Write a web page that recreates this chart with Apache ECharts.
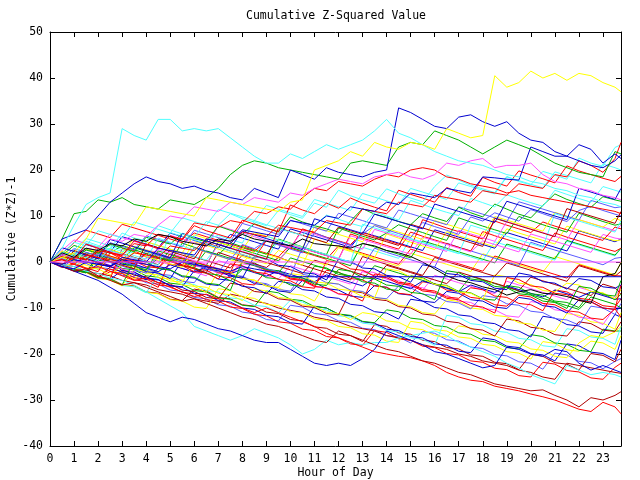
<!DOCTYPE html>
<html><head><meta charset="utf-8">
<script src="https://cdn.jsdelivr.net/npm/echarts@6/dist/echarts.min.js"></script>
<style>html,body{margin:0;padding:0;background:#fff}#c{width:640px;height:480px}</style>
</head><body><div id="c"></div>
<script>
// time grid (hour of day)
const hours = [0,0.5,1,1.5,2,2.5,3,3.5,4,4.5,5,5.5,6,6.5,7,7.5,8,8.5,9,9.5,10,10.5,11,11.5,12,12.5,13,13.5,14,14.5,15,15.5,16,16.5,17,17.5,18,18.5,19,19.5,20,20.5,21,21.5,22,22.5,23,23.5,23.75];
const yMin = -40, yMax = 50, yStep = 10;
const xMin = 0, xMax = 23.75, xStep = 1;

// cumulative (Z*Z)-1 per station
const yellowTop = [0,1,2,5,9.5,9,8.5,8,12,11.5,11,10.5,10,14,13.5,13,12.5,12,11.5,11,13,13.5,20,21,22,24,23,26,25,24.5,26,25.5,24.5,29,28,27,27.5,40.5,38,39,41.5,40,41,39.5,41,40.5,39,38,37];
const cyanTop = [0,3,8,12.5,14,15,29,27.5,26.5,31,31,28.5,29,28.5,29,27,25,23,21.5,21.5,23.5,22.5,24,25.5,24.5,25.5,26.5,28.5,31,28,27,25.5,24,23,22,21.5,21,20,19,18.5,17.5,17,16,15.5,14.5,14,13,12.5,12];
const blueTop = [0,5,6,7,10,13,15,17,18.5,17.5,17,16,16.5,15.5,15,14,13.5,16,15,14,20,19,18,20.5,19.5,19,18.5,19.5,20,33.5,32.5,31,29.5,29,31.5,32,30.5,29.5,30.5,28,26.5,26,24,23,25.5,24.5,21.5,23.5,22.5];
const greenUpper = [0,5,10.5,11,13.5,13,14,12.5,12,11.5,13.5,13,12.5,14,16,19,21,22,21.5,20.5,20,19.5,19,18.5,18,21.5,22,21.5,21,25,26,25.5,28.5,27.5,26.5,25,23.5,25,26.5,25.5,24.5,23,21.5,20.5,19.5,19,18.5,24,23.5];
const magentaUpper = [0,1.5,1,3,2.5,5,4.5,6,5.5,8,10,9.5,12,11.5,11,13,12.5,14,13.5,13,15,14.5,16,17,18,17.5,17,18.5,19,19.5,18.5,18,19,21.5,21,22,22.5,20.5,21,21,21.5,19,17.5,17,16,15.5,14.5,14,13.5];
const blueJump = [0,-1,-1.5,0,-0.5,-1,1,0.5,0,3,2.5,2,1.5,5,4.5,4,7,6.5,6,5.5,9,8.5,8,10,9.5,12,11.5,11,13,12.5,15,14.5,14,16,15.5,15,18.5,18.3,18,17.8,25,24,23,23,22,21,20.5,22,23.3];
const redUpperA = [0,-0.5,1,0.5,2.5,2,1.5,4,3.5,6,5.5,5,8.5,8,7.5,9,8.5,11,10.5,12,11.5,14,16,15.5,17.5,17,16.5,18,19,18.5,20,20.5,20,18.5,18,17,16.5,16,15,15.5,14.5,14,13.5,13,12.5,12,11.5,11,10.5];
const redUpperB = [0,0.5,-0.5,1.5,1,0.5,0,2,1.5,1,3.5,3,2.5,5,4.5,4,6.5,6,5.5,8,7.5,7,6.5,9,8.5,8,11.5,11,10.5,13,12.5,12,14.5,14,13.5,13,15.5,15,14.5,17,16.5,16,19,18.5,22,21,19.5,22.5,26];
const cyanLow = [0,-0.5,-1,-2,-2.5,-3.5,-4,-5,-6.5,-8,-9.5,-11,-14,-15,-16,-17,-16,-14.5,-15.5,-16.5,-18,-20,-19,-17,-18,-17.5,-18,-17.5,-17.5,-16.5,-16,-15.5,-15,-16,-17.5,-18.5,-19.5,-20.5,-22,-23,-24.5,-25.5,-26.5,-22.5,-23.5,-24.5,-24,-24.5,-25];
const blueLow = [0,-1,-2,-3,-4,-5.5,-7,-9,-11,-12,-13,-12,-12.5,-13.5,-14.5,-15,-16,-17,-17.5,-17.5,-19,-20.5,-22,-22.5,-22,-22.5,-21,-19,-15,-16,-17,-18,-19.5,-20,-21,-22,-23,-22.5,-18.5,-19,-20,-20.5,-19,-19.5,-22,-23.5,-22.5,-23.5,-24];
const redLowest = [0,0.5,-0.5,-1.5,-1,-2,-3,-4,-3.5,-4.5,-5.5,-6.5,-7.5,-7,-8,-9,-10,-11,-10,-11,-12,-13,-14,-15.5,-16.5,-17.5,-18.5,-19.5,-20,-20.5,-20.8,-21.5,-22.5,-24,-25,-25.7,-26,-27,-27.5,-28,-28.7,-29.3,-30,-31,-32,-32.5,-30.5,-31.5,-33];
const darkRedLow = [0,-1,-2,-1.5,-3,-4,-5,-4.5,-5.5,-6.5,-7.5,-8.5,-8,-9,-10,-11,-12,-12.5,-13.5,-14,-15,-16,-17,-17.5,-15,-16,-17,-18,-19,-19.5,-20.5,-21.5,-22,-23,-24,-24.5,-25.5,-26.5,-27,-27.5,-28,-27.8,-29,-30,-31.5,-29.5,-30,-29,-28.2];
const blackLine = [0,2,1,3,2.5,4,3.5,5,4.5,6,5.5,4.5,4,3.5,5,4.5,6,5,4.5,4,3.5,5,4,3.7,3.5,3,4,3.5,2.5,2,1.2,0,-1.5,-3,-4,-4.5,-5.4,-6,-7.2,-6.5,-6,-6.8,-7,-7.5,-8.3,-9,-3.2,-2.5,-0.2];
const magentaFlat = [0,0,0,0,0,0,0,0,0,0,0,0,0,0,0,0,0,0,0,0,0,0,0,0,0,0,0,0,0,0,0,0,0,0,0,0,0,0,0,0,0,0,0,0,0,0,0,0,0];
const blueFlat = [0,-0.5,0.5,0,-0.5,-1,0.5,0,-0.5,-1,-1.5,0,-0.5,-1,-1.5,-2,-1,-1.5,-2,-2.5,-3.2,-3.2,-3.2,-3.2,-3.2,-3.2,-3.2,-3.2,-3.2,-3.2,-3.2,-3.2,-3.2,-3.2,-3.2,-3.2,-3.2,-3.2,-3.2,-3.2,-3.2,-3.2,-3.2,-3.2,-3.2,-3.2,-3.2,-3.2,-3.2];
const g01 = [0,1.5,0.8,2.6,1.9,3.8,3.1,2.2,5.4,4.6, 3.9,6.2,5.1,4.4,7.8,6.9,6.0,8.3,7.4,6.5, 9.8,8.7,7.9,7.2,6.3,8.9,11.6,10.4,9.7,8.8, 8.1,10.5,9.6,8.8,11.9,10.7,9.8,12.6,11.5,10.4, 9.6,12.3,14.8,13.6,12.7,11.9,14.2,13.5,13.2];
const g02 = [0,2.1,1.2,4.5,3.6,2.8,6.3,5.2,4.6,7.9, 7.0,6.1,5.4,8.8,8.0,10.5,9.4,8.7,7.9,11.2, 10.3,9.5,12.8,11.9,15.6,14.4,13.5,12.8,15.9,14.8, 13.9,13.1,16.4,18.9,17.8,16.7,15.9,15.1,18.6,17.5, 16.8,19.7,18.9,18.0,22.6,21.5,20.8,24.9,25.5];
const g03 = [0,-1.1,0.6,-0.4,1.8,0.9,0.1,-0.7,2.4,1.5, 0.6,-0.2,3.1,2.2,1.4,0.5,3.8,2.9,4.6,3.7, 2.8,2.0,6.4,5.3,4.5,3.6,6.1,7.9,7.0,6.2, 5.3,8.6,7.7,6.9,6.0,9.8,8.9,10.7,9.8,8.9, 11.4,10.5,9.6,8.8,11.2,12.1,11.2,10.4,10.0];
const g04 = [0,1.3,0.5,3.9,3.0,2.1,1.4,4.6,3.8,2.9, 5.7,4.8,7.9,6.8,6.0,5.2,9.1,8.2,7.3,6.6, 12.4,11.3,10.5,12.8,11.7,13.9,12.8,11.9,11.1,15.6, 14.7,13.9,13.0,16.2,15.1,14.3,18.4,17.3,16.5,19.8, 18.9,18.1,17.2,20.9,19.8,19.0,18.2,17.5,18.6];
const g05 = [0,-0.8,1.9,1.0,0.2,3.1,2.3,1.4,0.6,5.2, 4.3,3.5,2.6,4.9,5.8,4.9,4.1,9.0,8.1,7.3, 6.5,5.8,7.9,10.2,9.3,8.4,7.7,10.9,10.0,9.1, 13.4,12.5,11.6,10.8,10.1,13.8,12.9,12.0,14.6,13.7, 12.9,12.1,15.6,14.7,13.8,13.0,16.4,15.6,15.2];
const g06 = [0,2.2,1.3,0.4,2.8,1.9,3.6,2.7,1.8,1.0, 0.2,4.1,3.2,2.3,1.5,4.2,3.3,2.5,1.7,5.0, 4.1,3.3,2.4,1.6,7.4,6.5,5.6,4.8,6.3,8.1, 7.2,6.4,5.5,4.7,9.6,8.7,7.8,7.0,6.2,9.9, 9.0,8.1,7.3,6.5,10.6,9.7,8.8,8.0,8.3];
const g07 = [0,-0.9,1.4,0.5,2.2,1.3,0.5,-0.3,1.9,1.0, 0.2,-0.6,-1.4,4.2,3.3,2.4,1.6,0.8,4.7,3.8, 2.9,7.2,6.3,5.4,4.6,3.8,6.4,5.5,4.7,3.9, 3.1,9.2,8.3,7.4,6.6,5.8,5.0,8.9,8.0,7.2, 6.4,8.7,7.8,7.0,6.2,5.4,4.7,7.6,7.2];
const g08 = [0,0.9,0.1,-0.7,-1.5,1.2,0.3,2.1,1.2,0.4, -0.4,-1.2,3.0,2.1,1.3,0.5,-0.3,2.6,1.7,0.9, 0.1,-0.7,5.0,4.1,3.3,2.5,1.7,0.9,6.1,5.2, 4.3,3.5,2.7,6.6,5.7,4.9,4.1,3.3,7.2,6.3, 5.5,4.7,3.9,7.8,6.9,6.1,5.3,4.6,4.8];
const g09 = [0,-1.2,-0.4,-1.3,-2.1,2.0,1.1,0.3,-0.5,-1.3, 1.8,0.9,0.1,-0.7,-1.5,-2.3,3.6,2.7,1.9,1.1, 3.9,3.0,2.2,1.4,0.6,6.1,5.2,4.4,3.6,2.8, 6.5,5.6,4.8,4.0,3.2,2.4,6.6,5.7,4.9,4.1, 3.3,2.5,6.3,5.4,4.6,3.8,3.0,2.3,3.0];
const g10 = [0,0.8,-0.1,1.6,0.7,-0.1,-0.9,-1.7,-2.4,1.9, 1.0,0.2,-0.6,-1.4,-2.2,1.1,0.2,-0.6,-1.4,-2.2, -3.0,3.1,2.2,1.4,0.6,-0.2,-1.0,3.0,2.1,1.3, 0.5,-0.3,-1.1,4.1,3.2,2.4,1.6,0.8,0.0,-0.8, 4.3,3.4,2.6,1.8,1.0,0.2,-0.6,0.8,1.0];
const g11 = [0,-0.9,1.5,0.6,-0.2,-1.0,0.4,-0.4,1.8,0.9, 0.1,-0.7,-1.5,-2.3,2.1,1.2,0.4,-0.4,-1.2,1.0, 0.1,-0.7,-1.5,-2.3,-3.1,-3.9,1.2,0.3,-0.5,-1.3, -2.1,-2.9,1.0,0.1,-0.7,-1.5,-2.3,-3.1,-0.2,-1.0, -1.8,-2.6,-3.4,-4.2,-0.8,-1.6,-2.4,-3.1,-2.0];
const g12 = [0,-0.6,-1.9,-2.2,1.4,0.9,-0.5,-0.8,-2.1,-2.4, -3.6,0.3,-0.2,-1.6,-1.9,-3.1,-3.5,1.2,0.7,-0.7, -1.0,-2.3,-2.6,-3.9,0.6,0.1,-1.3,-1.5,-2.9,-3.2, -4.4,-0.6,-1.1,-2.5,-2.8,-4.0,-4.3,-5.7,-6.0,-2.4, -2.9,-4.3,-4.6,-5.9,-3.6,-4.0,-5.4,-5.7,-5.0];
const g13 = [0,-1.0,-0.2,-1.3,-1.5,-2.8,-0.7,-1.1,-2.5,-2.8, -4.1,-4.4,-0.2,-0.7,-2.0,-2.3,-3.6,-3.9,-5.2,-5.5, -2.5,-2.9,-4.3,-4.6,-5.9,-6.2,-7.5,-7.8,-1.5,-1.9, -3.3,-3.6,-4.9,-5.2,-6.5,-6.8,-8.1,-2.8,-3.2,-4.6, -4.9,-6.2,-6.5,-4.6,-5.0,-6.4,-6.7,-8.0,-6.0];
const g14 = [0,1.2,0.3,2.0,1.4,0.1,-0.2,-1.5,-1.8,1.0, 0.5,-0.9,-1.2,-2.5,-2.8,-4.1,-1.6,-2.0,-3.4,-3.7, -5.0,-5.3,-0.9,-1.3,-2.7,-3.0,-4.3,-4.6,-5.9,-6.2, -3.0,-3.4,-4.8,-5.1,-6.4,-6.7,-8.0,-8.3,-5.1,-5.5, -6.9,-7.2,-8.5,-8.8,-9.9,-6.4,-6.8,-8.2,-7.0];
const g15 = [0,-0.6,-1.9,-2.2,-3.5,-2.1,-2.5,-3.9,-4.2,-5.5, 0.4,-0.1,-1.5,-1.8,-3.1,-3.4,-4.7,-5.0,-1.9,-2.3, -3.7,-4.0,-5.3,-5.6,-6.9,-7.2,-8.5,-2.6,-3.0,-4.4, -4.7,-6.0,-6.3,-7.6,-7.9,-5.6,-6.0,-7.4,-7.7,-9.0, -9.3,-10.6,-6.1,-6.5,-7.9,-8.2,-9.5,-9.8,-8.0];
const g16 = [0,1.0,0.2,-0.3,-1.6,0.9,0.4,-1.0,-1.3,-2.6, -2.9,-4.2,-4.5,-1.0,-1.4,-2.8,-3.1,-4.4,-4.7,-6.0, -6.3,-2.7,-3.1,-4.5,-4.8,-6.1,-6.4,-7.7,-8.0,-5.2, -5.6,-7.0,-7.3,-8.6,-8.9,-10.2,-7.3,-7.7,-9.1,-9.4, -10.7,-11.0,-12.3,-12.6,-13.7,-9.6,-10.0,-11.4,-9.0];
const g17 = [0,-0.5,-1.8,2.0,1.5,0.1,-0.2,-1.5,2.6,2.1, 0.7,0.4,-0.9,-1.2,-2.5,-2.8,-0.4,-0.8,-2.2,-2.5, -3.8,-4.1,-5.4,-5.7,-7.0,-7.3,-1.9,-2.3,-3.7,-4.0, -5.3,-5.6,-6.9,-7.2,-8.5,-8.8,-10.1,-10.4,-11.7,-12.0, -8.6,-9.0,-10.4,-10.7,-12.0,-12.3,-13.6,-9.8,-10.0];
const g18 = [0,-0.7,-2.0,-2.3,-3.6,-3.9,-5.2,-1.6,-2.0,-3.4, -3.7,-5.0,-5.3,-6.6,-1.9,-2.3,-3.7,-4.0,-5.3,-5.6, -6.9,-7.2,-8.5,-4.4,-4.8,-6.2,-6.5,-7.8,-8.1,-9.4, -9.7,-11.0,-11.3,-8.2,-8.6,-10.0,-10.3,-11.6,-11.9,-13.2, -13.5,-14.8,-15.1,-11.2,-11.6,-13.0,-13.3,-14.6,-11.0];
const g19 = [0,-0.6,1.6,1.1,-0.3,0.2,-1.9,-2.2,-3.5,-3.8, -5.1,-5.4,-1.9,-2.3,-3.7,-4.0,-5.3,-5.6,-6.9,-4.2, -4.6,-6.0,-6.3,-7.6,-7.9,-9.2,-9.5,-10.8,-11.1,-12.4, -8.1,-8.5,-9.9,-10.2,-11.5,-11.8,-13.1,-13.4,-14.7,-15.0, -16.3,-11.8,-12.2,-13.6,-13.9,-15.2,-15.5,-11.4,-12.0];
const g20 = [0,-0.5,-1.8,-2.1,-3.4,-1.1,-1.5,-2.9,-3.2,-4.5, -4.8,-6.1,-6.4,-7.7,-8.0,-4.6,-5.0,-6.4,-6.7,-8.0, -8.3,-9.6,-9.9,-11.2,-11.5,-6.3,-6.7,-8.1,-8.4,-9.7, -10.0,-11.3,-11.6,-12.9,-13.2,-14.5,-14.8,-16.1,-12.4,-12.8, -14.2,-14.5,-15.8,-16.1,-13.0,-13.4,-14.8,-15.1,-13.0];
const g21 = [0,-0.6,-1.9,-2.2,-3.5,-3.8,-5.1,-5.4,-6.7,-2.8, -3.2,-4.6,-4.9,-6.2,-6.5,-7.8,-8.1,-9.4,-9.7,-11.0, -8.3,-8.7,-10.1,-10.4,-11.7,-12.0,-13.3,-13.6,-14.9,-15.2, -16.5,-16.8,-18.1,-11.6,-12.0,-13.4,-13.7,-15.0,-15.3,-16.6, -16.9,-18.2,-18.5,-14.5,-14.9,-16.3,-16.6,-17.9,-14.0];
const g22 = [0,-0.5,-1.8,-2.1,0.4,0.0,-1.4,-1.7,-3.0,-3.3, -4.6,-4.9,-6.2,-6.5,-7.8,-8.1,-9.4,-9.7,-6.3,-6.7, -8.1,-8.4,-9.7,-10.0,-11.3,-11.6,-12.9,-13.2,-10.4,-10.8, -12.2,-12.5,-13.8,-14.1,-15.4,-15.7,-17.0,-17.3,-18.6,-18.9, -15.8,-16.2,-17.6,-17.9,-19.2,-19.5,-14.6,-15.0,-15.0];
const g23 = [0,-0.5,-1.8,-2.1,-3.4,-3.7,-5.0,-5.3,-6.6,-6.9, -8.2,-8.5,-9.8,-10.1,-5.8,-6.2,-7.6,-7.9,-9.2,-9.5, -10.8,-11.1,-12.4,-12.7,-14.0,-14.3,-15.6,-15.9,-17.2,-17.5, -12.9,-13.3,-14.7,-15.0,-16.3,-16.6,-17.9,-18.2,-19.5,-19.8, -21.1,-17.3,-17.7,-19.1,-19.4,-17.2,-17.6,-19.0,-16.0];
const g24 = [0,-0.6,-1.9,-2.2,-3.5,-3.8,-1.8,-2.2,-3.6,-3.9, -5.2,-5.5,-6.8,-7.1,-8.4,-8.7,-10.0,-10.3,-11.6,-11.9, -13.2,-13.5,-9.6,-10.0,-11.4,-11.7,-13.0,-13.3,-14.6,-14.9, -16.2,-16.5,-17.8,-18.1,-19.4,-19.7,-16.5,-16.9,-18.3,-18.6, -19.9,-20.2,-21.5,-17.8,-18.2,-19.6,-19.9,-21.2,-17.0];
const g25 = [0,-0.4,-1.7,-2.0,-3.3,-3.6,-4.9,-5.2,-6.5,-6.8, -8.1,-8.4,-5.9,-6.3,-7.7,-8.0,-9.3,-9.6,-10.9,-11.2, -12.5,-12.8,-14.1,-14.4,-15.7,-16.0,-17.3,-13.6,-14.0,-15.4, -15.7,-17.0,-17.3,-18.6,-18.9,-20.2,-20.5,-21.8,-22.1,-23.4, -20.1,-20.5,-21.9,-22.2,-23.5,-19.9,-20.3,-21.7,-19.0];
const g26 = [0,-0.4,-1.7,-2.0,-1.1,-1.5,-2.9,-3.2,-4.5,-4.8, -6.1,-6.4,-7.7,-8.0,-9.3,-9.6,-10.9,-11.2,-12.5,-12.8, -9.4,-9.8,-11.2,-11.5,-12.8,-13.1,-14.4,-14.7,-16.0,-16.3, -17.6,-15.1,-15.5,-16.9,-17.2,-18.5,-18.8,-20.1,-20.4,-21.7, -22.0,-23.3,-19.8,-20.2,-21.6,-21.9,-23.2,-21.6,-21.0];
const g27 = [0,-0.3,-1.6,-1.9,-3.2,-1.6,-2.0,-3.4,-3.7,-5.0, -5.3,-6.6,-6.9,-8.2,-8.5,-9.8,-10.1,-11.4,-11.7,-13.0, -13.3,-14.6,-14.9,-16.2,-16.5,-17.8,-18.1,-14.9,-15.3,-16.7, -17.0,-18.3,-18.6,-19.9,-20.2,-21.5,-21.8,-23.1,-23.4,-24.7, -25.0,-21.8,-22.2,-23.6,-23.9,-25.2,-25.5,-22.9,-22.0];
const g28 = [0,0.7,-0.1,0.8,0.0,-0.8,0.3,-0.5,-1.3,-2.1, -0.6,-1.4,-2.2,-1.0,-1.8,-2.6,-1.5,-2.3,-3.1,-1.9, -2.7,-3.5,-4.3,-2.8,-3.6,-4.4,-5.2,-3.4,-4.2,-5.0, -5.8,-4.1,-4.9,-5.7,-6.5,-5.0,-5.8,-6.6,-5.2,-6.0, -6.8,-7.6,-6.1,-6.9,-7.7,-6.5,-7.3,-8.1,-8.0];
const g29 = [0,1.8,1.0,0.2,3.2,2.4,1.6,0.8,0.0,2.7, 1.9,1.1,0.3,-0.5,3.9,3.1,2.3,1.5,0.7,-0.1, 3.8,3.0,2.2,1.4,0.6,5.7,4.9,4.1,3.3,2.5, 1.7,5.4,4.6,3.8,3.0,2.2,4.6,3.8,3.0,2.2, 6.1,5.3,4.5,3.7,2.9,2.1,6.0,5.2,5.0];
const g30 = [0,-0.5,-1.8,-2.1,-3.4,-3.7,-5.0,0.4,0.0,-1.4, -1.7,-3.0,-3.3,-4.6,-4.9,-6.2,0.2,-0.2,-1.6,-1.9, -3.2,-3.5,-4.8,-5.1,-1.6,-2.0,-3.4,-3.7,-5.0,-5.3, -6.6,-6.9,-8.2,-1.9,-2.3,-3.7,-4.0,-5.3,-5.6,-6.9, -7.2,-8.5,-8.8,-10.1,-5.3,-5.7,-7.1,-7.4,-4.0];
const g31 = [0,-0.8,-1.6,4.1,3.3,2.5,1.7,0.9,0.1,-0.7, 6.4,5.6,4.8,4.0,3.2,2.4,1.6,0.8,5.6,4.8, 4.0,3.2,2.4,1.6,0.8,0.0,8.2,7.4,6.6,5.8, 5.0,4.2,3.4,2.6,1.8,8.0,7.2,6.4,5.6,4.8, 4.0,3.2,10.5,9.7,8.9,8.1,7.3,6.5,9.0];
const g32 = [0,-0.8,2.5,1.7,0.9,0.1,-0.7,-1.5,3.9,3.1, 2.3,1.5,0.7,4.6,3.8,3.0,2.2,1.4,0.6,7.4, 6.6,5.8,5.0,4.2,7.6,6.8,6.0,5.2,4.4,3.6, 8.2,7.4,6.6,5.8,5.0,4.2,3.4,9.5,8.7,7.9, 7.1,6.3,5.5,11.6,10.8,10.0,9.2,8.4,11.0];
const g33 = [0,3.1,2.3,1.5,0.7,4.9,4.1,3.3,2.5,1.7, 0.9,6.2,5.4,4.6,3.8,3.0,6.7,5.9,5.1,4.3, 3.5,2.7,9.4,8.6,7.8,7.0,6.2,10.4,9.6,8.8, 8.0,7.2,12.6,11.8,11.0,10.2,9.4,8.6,13.2,12.4, 11.6,10.8,10.0,9.2,16.0,15.2,14.4,13.6,16.0];
const g34 = [0,-0.4,-1.7,-0.3,-0.7,-2.1,-2.4,-3.7,-1.8,-2.2, -3.6,-3.9,-5.2,-5.5,-6.8,-7.1,-8.4,-5.9,-6.3,-7.7, -8.0,-9.3,-9.6,-10.9,-11.2,-12.5,-11.0,-11.4,-12.8,-13.1, -14.4,-14.7,-16.0,-16.3,-13.9,-14.3,-15.7,-16.0,-17.3,-17.6, -18.9,-19.2,-20.5,-20.8,-17.6,-16.0,-16.4,-15.2,-14.0];
const g35 = [0,-0.5,-1.8,-2.1,-3.4,-3.7,2.9,2.5,1.1,0.8, -0.5,-0.8,-2.1,-2.4,-3.7,-0.4,-0.8,-2.2,-2.5,-3.8, -4.1,-5.4,-5.7,0.3,-0.1,-1.5,-1.8,-3.1,-3.4,-4.7, -5.0,-6.3,-6.6,-7.9,-8.2,-9.5,-9.8,-11.1,-3.4,-3.8, -5.2,-5.5,-6.8,-7.1,-8.4,-8.7,-10.0,-10.3,-5.0];
const g36 = [0,-0.5,-1,-2,-2.5,-3,-4,-4.5,-5,-6, -6.5,-7,-8,-8.5,-9,-7,-7.5,-8.5,-9,-10, -10.5,-11,-12,-12.5,-13,-14,-14.5,-15,-16,-16.5, -17,-18,-18.5,-19,-20,-20.5,-21.5,-22,-22.5,-23.5, -24,-25,-25.5,-22,-22.5,-23,-23.5,-24,-24.2];
const g37 = [0,2.5,4.8,4.0,3.2,6.1,5.3,4.5,3.7,2.9, 5.8,5.0,4.2,3.4,7.9,7.1,6.3,5.5,4.7,3.9, 3.1,6.8,6.0,5.2,4.4,3.6,2.8,7.1,6.3,5.5, 4.7,3.9,3.1,2.3,6.9,6.1,5.3,4.5,8.8,8.0, 7.2,6.4,5.6,4.8,9.2,8.4,7.6,6.8,8.0];
const g38 = [0,1.8,4.2,6.9,6.1,5.3,8.2,7.4,6.6,5.8, 5.0,4.2,6.3,5.5,4.7,3.9,3.1,2.3,4.6,3.8, 3.0,2.2,1.4,0.6,3.5,2.7,1.9,1.1,0.3,-0.5, 2.8,2.0,1.2,0.4,-0.4,-1.2,-2.0,1.3,0.5,-0.3, -1.1,-1.9,-2.7,-3.5,-0.6,-1.4,-2.2,-3.0,-3.0];
const g39 = [0,1.4,3.6,2.8,2.0,1.2,0.4,3.1,2.3,1.5, 0.7,-0.1,-0.9,2.4,1.6,0.8,0.0,-0.8,-1.6,-2.4, 0.9,0.1,-0.7,-1.5,-2.3,-3.1,-3.9,-0.8,-1.6,-2.4, -3.2,-4.0,-4.8,-5.6,-6.4,-3.1,-3.9,-4.7,-5.5,-6.3, -7.1,-7.9,-8.7,-9.5,-10.3,-7.6,-8.4,-9.2,-10.0];
const g40 = [0,-0.8,2.6,5.1,4.3,3.5,2.7,1.9,4.4,3.6, 2.8,2.0,1.2,0.4,3.7,2.9,2.1,1.3,0.5,4.8, 4.0,3.2,2.4,1.6,0.8,0.0,3.2,2.4,1.6,0.8, 5.1,4.3,3.5,2.7,1.9,1.1,0.3,4.4,3.6,2.8, 2.0,1.2,0.4,4.5,3.7,2.9,2.1,1.3,3.0];
const g41 = [0,1.1,0.3,2.9,2.1,1.3,0.5,3.4,2.6,1.8, 1.0,0.2,4.4,3.6,2.8,2.0,1.2,0.4,-0.4,2.5, 1.7,0.9,0.1,-0.7,3.1,2.3,1.5,0.7,-0.1,-0.9, 1.9,1.1,0.3,-0.5,-1.3,-2.1,1.8,1.0,0.2,-0.6, -1.4,-2.2,1.2,0.4,-0.4,-1.2,-2.0,-2.8,0.0];
const g42 = [0,-0.7,1.9,1.1,0.3,2.6,1.8,1.0,0.2,-0.6, 2.7,1.9,1.1,0.3,-0.5,-1.3,1.5,0.7,-0.1,-0.9, -1.7,-2.5,0.4,-0.4,-1.2,-2.0,-2.8,-3.6,-0.7,-1.5, -2.3,-3.1,-3.9,-4.7,-2.2,-3.0,-3.8,-4.6,-5.4,-6.2, -3.3,-4.1,-4.9,-5.7,-6.5,-7.3,-4.8,-5.6,-7.0];
const g43 = [0,1.6,0.8,3.8,3.0,2.2,5.5,4.7,3.9,3.1, 6.3,5.5,4.7,3.9,3.1,6.0,5.2,4.4,3.6,2.8, 7.2,6.4,5.6,4.8,4.0,3.2,6.5,5.7,4.9,4.1, 3.3,2.5,7.0,6.2,5.4,4.6,3.8,3.0,6.4,5.6, 4.8,4.0,3.2,2.4,6.8,6.0,5.2,4.4,5.0];
const g44 = [0,0.8,2.9,2.1,1.3,4.2,3.4,2.6,5.7,4.9, 4.1,3.3,6.9,6.1,5.3,4.5,8.4,7.6,6.8,6.0, 9.1,8.3,7.5,6.7,10.6,9.8,9.0,8.2,7.4,11.3, 10.5,9.7,8.9,8.1,12.0,11.2,10.4,9.6,8.8,13.1, 12.3,11.5,10.7,9.9,9.1,13.4,12.6,11.8,12.0];
const g45 = [0,-0.8,-1.6,-2.4,1.5,0.7,-0.1,-0.9,-1.7,2.4, 1.6,0.8,0.0,-0.8,4.3,3.5,2.7,1.9,1.1,0.3, 3.2,2.4,1.6,0.8,0.0,-0.8,4.1,3.3,2.5,1.7, 0.9,4.6,3.8,3.0,2.2,1.4,0.6,-0.2,3.9,3.1, 2.3,1.5,0.7,4.7,3.9,3.1,2.3,1.5,3.0];
const g46 = [0,1.3,0.5,-0.3,2.4,2.0,0.6,0.3,-1.0,-1.3, 1.1,0.7,-0.7,-1.0,-2.3,-2.6,-0.1,-0.5,-1.9,-2.2, -3.5,-3.8,-5.1,-1.8,-2.2,-3.6,-3.9,-5.2,-5.5,-6.8, -7.1,-4.3,-4.7,-6.1,-6.4,-7.7,-8.0,-9.3,-9.6,-7.2, -7.6,-9.0,-9.3,-10.6,-10.9,-12.2,-12.5,-10.2,-12.0];
const g47 = [0,-0.7,-1.5,0.9,0.1,-0.7,-1.5,-2.3,1.0,0.2, -0.6,-1.4,-2.2,-3.0,0.3,-0.5,-1.3,-2.1,-2.9,-3.7, -0.8,-1.6,-2.4,-3.2,-4.0,-4.8,-2.1,-2.9,-3.7,-4.5, -5.3,-6.1,-2.9,-3.7,-4.5,-5.3,-6.1,-6.9,-4.2,-5.0, -5.8,-6.6,-7.4,-8.2,-5.5,-6.3,-7.1,-7.9,-5.0];
const g48 = [0,1.9,4.3,3.5,6.8,6.0,5.2,8.7,7.9,7.1, 6.3,9.6,8.8,8.0,11.4,10.6,9.8,9.0,12.3,11.5, 10.7,9.9,13.6,12.8,12.0,11.2,14.9,14.1,13.3,12.5, 16.0,15.2,14.4,13.6,17.2,16.4,15.6,14.8,18.5,17.7, 16.9,16.1,19.6,18.8,18.0,17.2,21.3,20.5,20.0];
const g49 = [0,2.4,1.6,0.8,3.5,2.7,1.9,5.2,4.4,3.6, 2.8,2.0,5.9,5.1,4.3,3.5,2.7,6.4,5.6,4.8, 4.0,3.2,7.6,6.8,6.0,5.2,4.4,8.1,7.3,6.5, 5.7,4.9,9.0,8.2,7.4,6.6,5.8,9.9,9.1,8.3, 7.5,6.7,10.8,10.0,9.2,8.4,7.6,9.5,9.0];
const g50 = [0,-0.6,-1.9,-2.2,-0.5,-0.9,-2.3,-2.6,-3.9,-1.4, -1.8,-3.2,-3.5,-4.8,-5.1,-2.9,-3.3,-4.7,-5.0,-6.3, -6.6,-4.0,-4.4,-5.8,-6.1,-7.4,-7.7,-5.1,-5.5,-6.9, -7.2,-8.5,-8.8,-6.4,-6.8,-8.2,-8.5,-9.8,-10.1,-7.7, -8.1,-9.5,-9.8,-11.1,-8.2,-8.6,-10.0,-10.3,-10.0];

// colours (style only)
const RED = '#ff0000', GREEN = '#00b000', BLUE = '#0000d0', LBLUE = '#5a5aff',
      MAGENTA = '#ff50ff', CYAN = '#50ffff', YELLOW = '#ffff00', DRED = '#b00000', BLACK = '#000000';

const lines = [
  [g26, LBLUE], [g27, RED], [g25, DRED], [g36, DRED], [g24, BLUE], [g23, YELLOW], [g22, GREEN],
  [g21, CYAN], [g34, YELLOW], [g20, DRED], [g19, BLUE], [g18, YELLOW], [g17, MAGENTA], [g16, LBLUE],
  [g50, BLUE], [g46, RED], [g39, GREEN], [g47, MAGENTA], [g42, DRED],
  [g15, RED], [g28, BLUE], [g14, GREEN], [g13, YELLOW], [g35, RED], [g12, BLUE], [g30, GREEN],
  [g41, YELLOW], [g38, RED], [g40, CYAN], [g45, GREEN], [g43, BLUE],
  [g11, DRED], [g10, LBLUE], [g09, RED], [g08, YELLOW], [g29, MAGENTA], [g07, RED], [g06, GREEN],
  [g37, MAGENTA], [g49, YELLOW], [g44, LBLUE], [g48, CYAN],
  [g31, CYAN], [g03, LBLUE], [g32, DRED], [g01, GREEN], [g05, CYAN], [g33, BLUE], [g04, RED],
  [g02, CYAN], [cyanLow, CYAN], [blueLow, BLUE], [redLowest, RED], [darkRedLow, DRED],
  [redUpperB, RED], [redUpperA, RED], [blueJump, BLUE], [magentaUpper, MAGENTA], [greenUpper, GREEN],
  [blueTop, BLUE], [cyanTop, CYAN], [yellowTop, YELLOW], [blackLine, BLACK], [blueFlat, BLUE], [magentaFlat, MAGENTA]
];

const FONT = '"DejaVu Sans Mono", "Liberation Mono", monospace';
const FS = 11.5;
const txt = {color: '#000', fontFamily: FONT, fontSize: FS};

function xAx(pos, show) {
  return {
    type: 'value', min: xMin, max: xMax, interval: xStep, position: pos,
    axisLine: {show: true, onZero: false, lineStyle: {color: '#000', width: 1}},
    axisTick: {show: true, inside: true, length: 5, lineStyle: {color: '#000', width: 1}},
    axisLabel: {show: show, margin: 7, ...txt, formatter: v => Number.isInteger(v) ? String(v) : ''},
    splitLine: {show: false},
    name: show ? 'Hour of Day' : '', nameLocation: 'middle', nameGap: 21, nameMoveOverlap: false,
    nameTextStyle: txt
  };
}
function yAx(pos, show) {
  return {
    type: 'value', min: yMin, max: yMax, interval: yStep, position: pos,
    axisLine: {show: true, onZero: false, lineStyle: {color: '#000', width: 1}},
    axisTick: {show: true, inside: true, length: 5, lineStyle: {color: '#000', width: 1}},
    axisLabel: {show: show, margin: 7, ...txt},
    splitLine: {show: false},
    name: show ? 'Cumulative (Z*Z)-1' : '', nameLocation: 'middle', nameGap: 32, nameMoveOverlap: false,
    nameTextStyle: txt
  };
}

const chart = echarts.init(document.getElementById('c'), null, {renderer: 'canvas'});
chart.setOption({
  animation: false,
  backgroundColor: '#fff',
  title: {text: 'Cumulative Z-Squared Value', left: 336, top: 10, textAlign: 'center', padding: 0,
          textStyle: {...txt, fontWeight: 'normal'}},
  grid: {left: 50, right: 19, top: 32, bottom: 34, containLabel: false, outerBoundsMode: 'none'},
  xAxis: [xAx('bottom', true), xAx('top', false)],
  yAxis: [yAx('left', true), yAx('right', false)],
  series: lines.map(([vals, col]) => ({
    type: 'line', xAxisIndex: 0, yAxisIndex: 0,
    data: hours.map((h, i) => [h, vals[i]]),
    showSymbol: false, symbol: 'none', silent: true,
    lineStyle: {width: 1, color: col}, itemStyle: {color: col}
  }))
});
</script></body></html>
